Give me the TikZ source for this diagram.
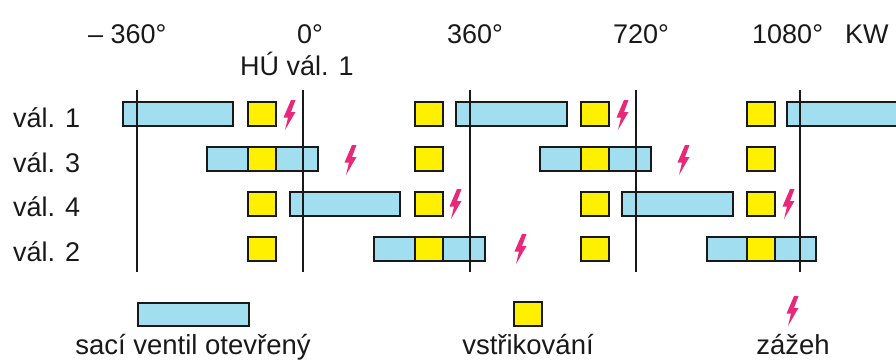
\documentclass[tikz,border=0pt]{standalone}
\usepackage{fontspec}
\setmainfont{Liberation Sans}
\definecolor{valve}{RGB}{160,222,240}
\definecolor{inj}{RGB}{255,240,0}
\definecolor{spark}{RGB}{232,40,120}
\definecolor{ink}{RGB}{25,25,25}
\tikzset{
  lbl/.style={inner sep=0pt, font=\fontsize{27}{30}\selectfont, text=ink},
  leg/.style={inner sep=0pt, font=\fontsize{27.5}{32}\selectfont, text=ink},
  valvebox/.style={fill=valve, draw=ink, line width=2.5pt},
  injbox/.style={fill=inj, draw=ink, line width=2.5pt},
  axisline/.style={draw=ink, line width=2pt},
  bolt/.pic={\fill[spark] (2,-15) -- (6.5,-15) -- (2,-3) -- (6.5,-3) -- (-4,15) -- (-1,2.5) -- (-5.5,2.5) -- cycle;}
}
\begin{document}
\begin{tikzpicture}[x=1pt,y=-1pt]
\useasboundingbox (0,0) rectangle (896,362);
\begin{scope}
\clip (0,0) rectangle (896,362);
% row 1 (y 102-126)
\draw[valvebox] (123,102) rectangle (233,126);
\draw[valvebox] (456,102) rectangle (567,126);
\draw[valvebox] (787,102) rectangle (905,126);
\foreach \x in {248,415,581,747} \draw[injbox] (\x,102) rectangle ++(28,24);
% row 3 (y 147-171)
\draw[valvebox] (207,147) rectangle (318,171);
\draw[valvebox] (540,147) rectangle (651,171);
\foreach \x in {248,415,581,747} \draw[injbox] (\x,147) rectangle ++(28,24);
% row 4 (y 192-216)
\draw[valvebox] (290,192) rectangle (400,216);
\draw[valvebox] (622,192) rectangle (733,216);
\foreach \x in {248,415,581,747} \draw[injbox] (\x,192) rectangle ++(28,24);
% row 2 (y 237-261)
\draw[valvebox] (374,237) rectangle (485,261);
\draw[valvebox] (707,237) rectangle (816,261);
\foreach \x in {248,415,581,747} \draw[injbox] (\x,237) rectangle ++(28,24);
\end{scope}
% crank angle lines
\foreach \x/\n in {137/a,303/b,470/c,636/d,800/e}{
  \coordinate (\n top) at (\x,90);
  \coordinate (\n bot) at (\x,272);
  \draw[axisline] (\n top) -- (\n bot);
}
% sparks
\pic at (289,115) {bolt};
\pic at (622,115) {bolt};
\pic at (350,160) {bolt};
\pic at (683,160) {bolt};
\pic at (455,204) {bolt};
\pic at (788,204) {bolt};
\pic at (520,249) {bolt};
% top labels
\node[lbl, anchor=base west] (tm) at (88,43) {– 360°};
\node[lbl, anchor=base west] (t0) at (297,43) {0°};
\node[lbl, anchor=base west] (thu) at (240,75) {HÚ vál. 1};
\node[lbl, anchor=base west] (t1) at (447,43) {360°};
\node[lbl, anchor=base west] (t2) at (613,43) {720°};
\node[lbl, anchor=base west] (t3) at (752,43) {1080°};
\node[lbl, anchor=base west] (tkw) at (845,43) {KW};
% row labels
\node[lbl, anchor=base west] (r1) at (13,127) {vál. 1};
\node[lbl, anchor=base west] (r3) at (13,172) {vál. 3};
\node[lbl, anchor=base west] (r4) at (13,216) {vál. 4};
\node[lbl, anchor=base west] (r2) at (13,261) {vál. 2};
% legend
\draw[valvebox] (138,303) rectangle (249,326);
\draw[injbox] (514,302) rectangle (542,326);
\pic at (792,311) {bolt};
\node[leg, anchor=base] (l1) at (193,354) {sací ventil otevřený};
\node[leg, anchor=base] (l2) at (528,354) {vstřikování};
\node[leg, anchor=base] (l3) at (793,354) {zážeh};
\end{tikzpicture}
\end{document}
